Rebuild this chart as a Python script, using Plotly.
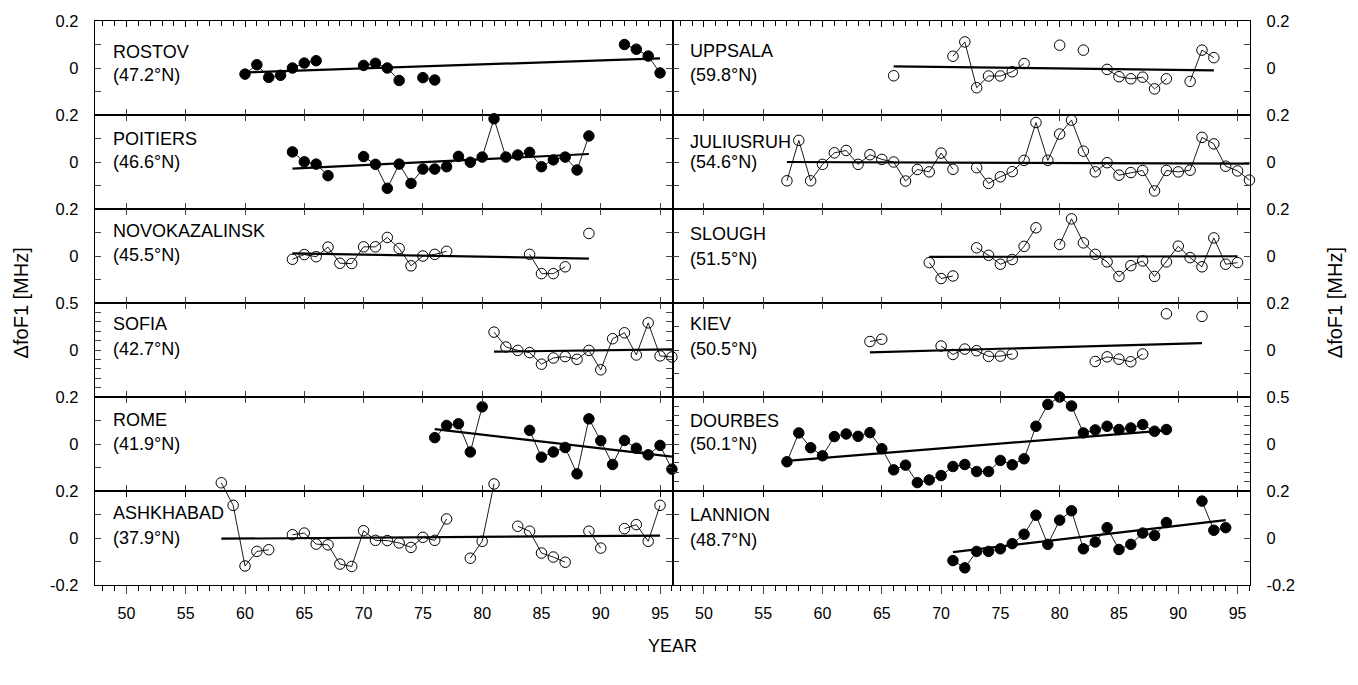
import plotly.graph_objects as go
from plotly.subplots import make_subplots

# ---- station records: year (19xx), ΔfoF1 deviation [MHz], fitted trend at first/last year ----
rostov_year = [60, 61, 62, 63, 64, 65, 66, 70, 71, 72, 73, 75, 76, 92, 93, 94, 95]
rostov_dfof1 = [-0.026, 0.014, -0.040, -0.031, 0.000, 0.021, 0.031, 0.011, 0.020, 0.000,
                -0.053, -0.041, -0.051, 0.100, 0.080, 0.051, -0.021]
rostov_trend = [-0.019, 0.041]

uppsala_year = [66, 71, 72, 73, 74, 75, 76, 77, 80, 82, 84, 85, 86, 87, 88, 89, 91, 92, 93]
uppsala_dfof1 = [-0.033, 0.050, 0.111, -0.084, -0.034, -0.034, -0.016, 0.019, 0.097, 0.076,
                 -0.006, -0.037, -0.046, -0.039, -0.089, -0.046, -0.057, 0.076, 0.044]
uppsala_trend = [0.007, -0.010]

poitiers_year = [64, 65, 66, 67] + list(range(70, 90))
poitiers_dfof1 = [0.043, 0.001, -0.009, -0.058,
                  0.023, -0.010, -0.112, -0.009, -0.091, -0.030, -0.030, -0.020, 0.024, -0.001,
                  0.021, 0.184, 0.021, 0.030, 0.041, -0.020, 0.009, 0.021, -0.034, 0.111]
poitiers_trend = [-0.028, 0.034]

juliusruh_year = list(range(57, 72)) + list(range(73, 97))
juliusruh_dfof1 = [-0.080, 0.092, -0.080, -0.010, 0.039, 0.049, -0.010, 0.031, 0.011, 0.000,
                   -0.081, -0.032, -0.042, 0.038, -0.031,
                   -0.024, -0.091, -0.063, -0.041, 0.007, 0.168, 0.007, 0.119, 0.178, 0.046,
                   -0.042, -0.003, -0.056, -0.045, -0.036, -0.123, -0.036, -0.042, -0.035, 0.105,
                   0.077, -0.018, -0.038, -0.077]
juliusruh_trend = [0.000, -0.007]

novokazalinsk_year = list(range(64, 78)) + [84, 85, 86, 87, 89]
novokazalinsk_dfof1 = [-0.014, 0.006, -0.003, 0.038, -0.031, -0.032, 0.039, 0.039, 0.079, 0.032,
                       -0.042, 0.000, 0.007, 0.020,
                       0.007, -0.075, -0.075, -0.046, 0.096]
novokazalinsk_trend = [0.011, -0.011]

slough_year = [69, 70, 71, 73, 74, 75, 76, 77, 78] + list(range(80, 96))
slough_dfof1 = [-0.028, -0.096, -0.085, 0.035, 0.003, -0.035, -0.015, 0.041, 0.120,
                0.049, 0.158, 0.056, 0.007, -0.025, -0.087, -0.041, -0.021, -0.087, -0.025,
                0.042, -0.007, -0.046, 0.077, -0.035, -0.028]
slough_trend = [-0.004, -0.001]

sofia_year = list(range(81, 97))
sofia_dfof1 = [0.190, 0.032, -0.004, -0.028, -0.151, -0.085, -0.070, -0.099, -0.004, -0.211,
               0.120, 0.183, -0.053, 0.289, -0.063, -0.074]
sofia_trend = [-0.018, 0.007]

kiev_year = [64, 65, 70, 71, 72, 73, 74, 75, 76, 83, 84, 85, 86, 87, 89, 92]
kiev_dfof1 = [0.036, 0.046, 0.017, -0.019, 0.004, -0.003, -0.027, -0.026, -0.017,
              -0.049, -0.029, -0.039, -0.050, -0.017, 0.154, 0.143]
kiev_trend = [-0.010, 0.029]

rome_year = [76, 77, 78, 79, 80] + list(range(84, 97))
rome_dfof1 = [0.027, 0.079, 0.086, -0.034, 0.158,
              0.058, -0.056, -0.034, -0.015, -0.127, 0.107, 0.014, -0.087, 0.015, -0.018,
              -0.046, -0.006, -0.107]
rome_trend = [0.063, -0.054]

dourbes_year = list(range(57, 90))
dourbes_dfof1 = [-0.189, 0.118, -0.039, -0.125, 0.079, 0.107, 0.082, 0.121, -0.050, -0.275,
                 -0.225, -0.411, -0.382, -0.336, -0.239, -0.218, -0.293, -0.293, -0.175, -0.221,
                 -0.157, 0.189, 0.421, 0.500, 0.404, 0.118, 0.150, 0.189, 0.154, 0.171,
                 0.207, 0.136, 0.154]
dourbes_trend = [-0.179, 0.146]

ashkhabad_year = ([58, 59, 60, 61, 62] + list(range(64, 78)) + [79, 80, 81]
                  + [83, 84, 85, 86, 87] + [89, 90] + [92, 93, 94, 95])
ashkhabad_dfof1 = [0.235, 0.139, -0.119, -0.057, -0.050,
                   0.014, 0.021, -0.026, -0.029, -0.111, -0.121, 0.031, -0.010, -0.011, -0.021,
                   -0.040, 0.003, -0.010, 0.081,
                   -0.086, -0.014, 0.230,
                   0.050, 0.029, -0.064, -0.081, -0.103,
                   0.029, -0.043,
                   0.040, 0.057, -0.014, 0.139]
ashkhabad_trend = [-0.003, 0.010]

lannion_year = list(range(71, 90)) + [92, 93, 94]
lannion_dfof1 = [-0.096, -0.127, -0.057, -0.057, -0.046, -0.024, 0.016, 0.097, -0.027, 0.076,
                 0.116, -0.046, -0.017, 0.044, -0.049, -0.027, 0.021, 0.011, 0.066,
                 0.157, 0.033, 0.044]
lannion_trend = [-0.060, 0.076]

station_names = ["ROSTOV", "UPPSALA", "POITIERS", "JULIUSRUH", "NOVOKAZALINSK", "SLOUGH",
                 "SOFIA", "KIEV", "ROME", "DOURBES", "ASHKHABAD", "LANNION"]
station_lats = ["(47.2°N)", "(59.8°N)", "(46.6°N)", "(54.6°N)", "(45.5°N)", "(51.5°N)",
                "(42.7°N)", "(50.5°N)", "(41.9°N)", "(50.1°N)", "(37.9°N)", "(48.7°N)"]
year_ticks = [50, 55, 60, 65, 70, 75, 80, 85, 90, 95]

records = [
    (rostov_year, rostov_dfof1, rostov_trend),
    (uppsala_year, uppsala_dfof1, uppsala_trend),
    (poitiers_year, poitiers_dfof1, poitiers_trend),
    (juliusruh_year, juliusruh_dfof1, juliusruh_trend),
    (novokazalinsk_year, novokazalinsk_dfof1, novokazalinsk_trend),
    (slough_year, slough_dfof1, slough_trend),
    (sofia_year, sofia_dfof1, sofia_trend),
    (kiev_year, kiev_dfof1, kiev_trend),
    (rome_year, rome_dfof1, rome_trend),
    (dourbes_year, dourbes_dfof1, dourbes_trend),
    (ashkhabad_year, ashkhabad_dfof1, ashkhabad_trend),
    (lannion_year, lannion_dfof1, lannion_trend),
]

# ---- panel styling ----
filled = {"ROSTOV", "POITIERS", "ROME", "DOURBES", "LANNION"}
half_range = {"SOFIA": 0.5, "DOURBES": 0.5}
# vertical placement of the two label lines (fraction of panel height from the top)
label_pos = [(0.33, 0.57), (0.32, 0.57), (0.26, 0.50), (0.29, 0.50), (0.23, 0.49), (0.27, 0.53),
             (0.22, 0.49), (0.22, 0.49), (0.24, 0.50), (0.25, 0.50), (0.23, 0.50), (0.25, 0.52)]

XR = [47.35, 96.05]
FONT = "Liberation Sans, Arial, sans-serif"
LW = 1.4
ROW_H = 1 / 6          # paper height of one panel row
SPILL = 0.04           # extra paper height for points that rise above their panel


def with_gaps(years, vals):
    """Insert breaks where a year is missing so the connecting line is interrupted."""
    xs, ys = [], []
    for i, (yr, v) in enumerate(zip(years, vals)):
        if i and yr - years[i - 1] > 1:
            xs.append(None)
            ys.append(None)
        xs.append(yr)
        ys.append(v)
    return xs, ys


fig = make_subplots(rows=6, cols=2, horizontal_spacing=0, vertical_spacing=0)
extra_axes = {}
next_axis = 13

for k, (years, vals, trend) in enumerate(records):
    row, col = k // 2 + 1, k % 2 + 1
    idx = k + 1
    suffix = "" if idx == 1 else str(idx)
    name = station_names[k]
    lim = half_range.get(name, 0.2)
    xs, ys = with_gaps(years, vals)
    is_filled = name in filled

    series = go.Scatter(
        x=xs, y=ys, mode="lines+markers",
        line=dict(color="black", width=0.9),
        marker=dict(symbol="circle" if is_filled else "circle-open", size=10.5,
                    color="black", line=dict(color="black", width=1)),
        cliponaxis=False, showlegend=False, hoverinfo="x+y")

    if max(vals) > lim:
        # taller twin y-axis with the same scale so the high points are drawn above the frame
        dom_lo = (6 - row) * ROW_H
        span = 2 * lim
        ext = SPILL * span / ROW_H
        yid = next_axis
        next_axis += 1
        extra_axes[f"yaxis{yid}"] = dict(domain=[dom_lo, dom_lo + ROW_H + SPILL],
                                         range=[-lim, lim + ext], visible=False,
                                         anchor=f"x{suffix}", fixedrange=True)
        series.update(xaxis=f"x{suffix}", yaxis=f"y{yid}")
        fig.add_trace(series)
    else:
        fig.add_trace(series, row=row, col=col)

    fig.add_trace(go.Scatter(
        x=[years[0], years[-1]], y=trend, mode="lines",
        line=dict(color="black", width=2.2), showlegend=False, hoverinfo="skip"),
        row=row, col=col)

    if lim == 0.5:
        tv = [round(-0.4 + 0.1 * i, 1) for i in range(10)]
        tt = ["0" if v == 0 else ("0.5" if v == 0.5 else "") for v in tv]
    else:
        tv = [-0.1, 0, 0.1, 0.2]
        tt = ["", "0", "", "0.2"]
    if row == 6:
        tv = [-0.2] + tv
        tt = ["-0.2"] + tt
    fig.update_yaxes(
        range=[-lim, lim], tickvals=tv, ticktext=tt, ticks="inside", ticklen=6, tickwidth=1.2,
        mirror="ticks", showline=True, linecolor="black", linewidth=LW, showgrid=False,
        zeroline=False, side="left" if col == 1 else "right", ticklabelstandoff=12,
        tickfont=dict(family=FONT, size=16.5, color="black"), row=row, col=col)

    xkw = dict(range=XR, tickvals=year_ticks, showgrid=False, zeroline=False, showline=True,
               linecolor="black", linewidth=LW, tickwidth=1.2)
    if row < 6:
        fig.update_xaxes(ticks="inside", ticklen=6, mirror="ticks", showticklabels=False,
                         row=row, col=col, **xkw)
    else:
        fig.update_xaxes(ticks="outside", ticklen=8, mirror=True, showticklabels=True,
                         ticklabelstandoff=6,
                         minor=dict(ticks="outside", tickvals=list(range(48, 97)), ticklen=5,
                                    tickwidth=1, tickcolor="black"),
                         tickfont=dict(family=FONT, size=16, color="black"),
                         row=row, col=col, **xkw)

    y1, y2 = label_pos[k]
    for text, yy in ((name, y1), (station_lats[k], y2)):
        fig.add_annotation(x=0.027, y=1 - yy, xref=f"x{suffix} domain", yref=f"y{suffix} domain",
                           text=text, showarrow=False, xanchor="left", yanchor="middle",
                           font=dict(family=FONT, size=18, color="black"))

# top frame of the upper row carries yearly ticks; bottom row gets inward ticks on its top edge
for idx in [1, 2, 11, 12]:
    ax_id = next_axis
    next_axis += 1
    suffix = "" if idx == 1 else str(idx)
    axdef = dict(overlaying=f"x{suffix}", anchor=f"y{suffix}", side="top", range=XR,
                 tickvals=year_ticks, ticks="inside", ticklen=6, tickwidth=1.2,
                 tickcolor="black", showticklabels=False, showline=False, showgrid=False,
                 zeroline=False)
    if idx <= 2:
        axdef["minor"] = dict(ticks="inside", tickvals=list(range(48, 97)), ticklen=5,
                              tickwidth=1, tickcolor="black")
    extra_axes[f"xaxis{ax_id}"] = axdef
    fig.add_trace(go.Scatter(x=[None], y=[None], xaxis=f"x{ax_id}", yaxis=f"y{suffix}",
                             showlegend=False, hoverinfo="skip"))
fig.update_layout(**extra_axes)

title_font = dict(family=FONT, size=20, color="black")
fig.add_annotation(x=-0.075, y=0.5, xref="paper", yref="paper", text="ΔfoF1 [MHz]",
                   textangle=-90, showarrow=False, font=title_font)
fig.add_annotation(x=1.085, y=0.5, xref="paper", yref="paper", text="ΔfoF1 [MHz]",
                   textangle=-90, showarrow=False, font=title_font)
fig.add_annotation(x=0.4996, y=-0.13, xref="paper", yref="paper", text="YEAR",
                   showarrow=False, font=dict(family=FONT, size=18, color="black"))

# transparent plot areas so the taller twin panel does not hide its neighbours
fig.update_layout(width=1358, height=685, margin=dict(l=95, r=108, t=18, b=100),
                  plot_bgcolor="rgba(0,0,0,0)", paper_bgcolor="white", showlegend=False)

fig.write_html("out.html")
